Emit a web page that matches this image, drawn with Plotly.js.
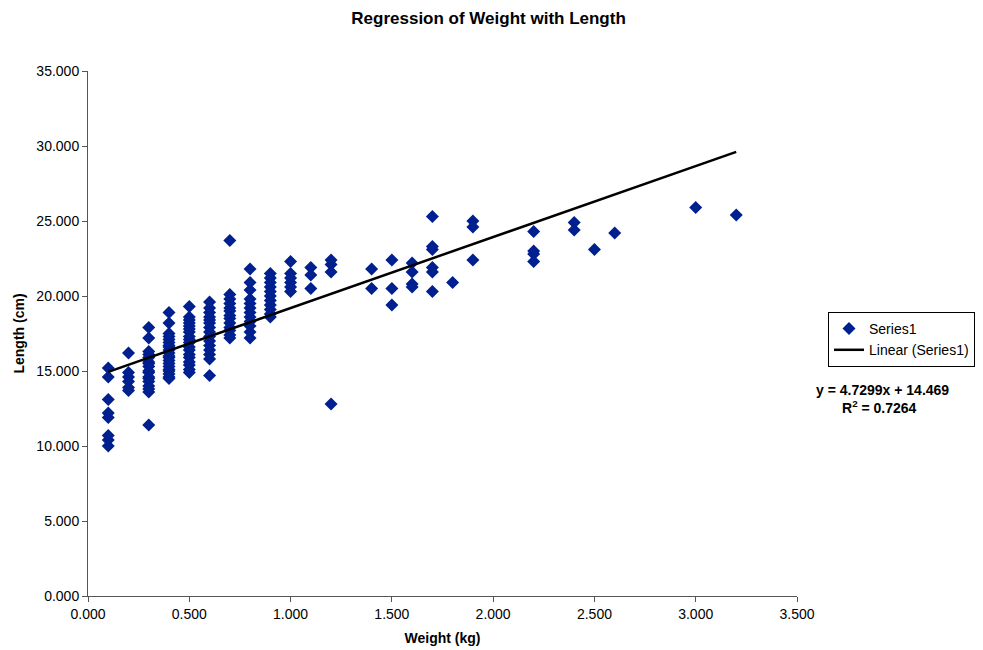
<!DOCTYPE html>
<html>
<head>
<meta charset="utf-8">
<script src="https://cdn.plot.ly/plotly-3.0.1.min.js"></script>
<style>html,body{margin:0;padding:0;background:#fff;}#chart{width:983px;height:650px;}</style>
</head>
<body>
<div id="chart"></div>
<script>
// Weight (kg) per fish, grouped by column
var weight = [
  0.1,0.1,0.1,0.1,0.1,0.1,0.1,0.1,
  0.2,0.2,0.2,0.2,0.2,0.2,
  0.3,0.3,0.3,0.3,0.3,0.3,0.3,0.3,0.3,0.3,0.3,0.3,0.3,0.3,0.3,0.3,0.3,
  0.4,0.4,0.4,0.4,0.4,0.4,0.4,0.4,0.4,0.4,0.4,0.4,0.4,0.4,0.4,0.4,0.4,0.4,0.4,0.4,
  0.5,0.5,0.5,0.5,0.5,0.5,0.5,0.5,0.5,0.5,0.5,0.5,0.5,0.5,0.5,0.5,0.5,0.5,
  0.6,0.6,0.6,0.6,0.6,0.6,0.6,0.6,0.6,0.6,0.6,0.6,0.6,0.6,0.6,
  0.7,0.7,0.7,0.7,0.7,0.7,0.7,0.7,0.7,0.7,0.7,0.7,0.7,
  0.8,0.8,0.8,0.8,0.8,0.8,0.8,0.8,0.8,0.8,0.8,0.8,
  0.9,0.9,0.9,0.9,0.9,0.9,0.9,0.9,0.9,0.9,0.9,
  1.0,1.0,1.0,1.0,1.0,1.0,
  1.1,1.1,1.1,
  1.2,1.2,1.2,1.2,
  1.4,1.4,
  1.5,1.5,1.5,
  1.6,1.6,1.6,1.6,
  1.7,1.7,1.7,1.7,1.7,1.7,
  1.8,
  1.9,1.9,1.9,
  2.2,2.2,2.2,2.2,
  2.4,2.4,
  2.5,
  2.6,
  3.0,
  3.2
];
// Length (cm) per fish, same order
var lengthCm = [
  15.2,14.6,13.1,12.2,11.9,10.7,10.4,10.0,
  16.2,14.9,14.6,14.3,13.9,13.7,
  17.9,17.2,16.3,16.1,15.9,15.6,15.5,15.3,15.0,14.9,14.6,14.5,14.3,14.0,13.8,13.6,11.4,
  18.9,18.2,17.5,17.3,17.1,16.9,16.7,16.6,16.4,16.2,16.0,15.9,15.7,15.5,15.3,15.1,15.0,14.8,14.6,14.5,
  19.3,18.6,18.4,18.2,18.0,17.8,17.6,17.3,17.1,16.9,16.6,16.4,16.1,15.9,15.6,15.4,15.1,14.9,
  19.6,19.2,18.9,18.6,18.4,18.2,17.9,17.6,17.3,17.0,16.7,16.4,16.1,15.8,14.7,
  23.7,20.1,19.8,19.5,19.2,19.0,18.7,18.5,18.2,17.9,17.7,17.4,17.2,
  21.8,20.9,20.4,19.8,19.5,19.2,18.9,18.6,18.3,18.0,17.6,17.2,
  21.5,21.2,20.9,20.6,20.3,20.0,19.7,19.4,19.1,18.8,18.6,
  22.3,21.5,21.2,20.9,20.6,20.3,
  21.9,21.4,20.5,
  22.4,22.1,21.6,12.8,
  21.8,20.5,
  22.4,20.5,19.4,
  22.2,21.6,20.8,20.6,
  25.3,23.3,23.1,21.9,21.6,20.3,
  20.9,
  25.0,24.6,22.4,
  24.3,23.0,22.8,22.3,
  24.9,24.4,
  23.1,
  24.2,
  25.9,
  25.4
];
// Linear trendline from the chart's equation
var slope = 4.7299;
var intercept = 14.469;
var rSquared = 0.7264;
var trendX = [0.1, 3.2];
var trendY = trendX.map(function(x){ return slope * x + intercept; });

var xTicks = [0, 0.5, 1, 1.5, 2, 2.5, 3, 3.5];
var yTicks = [0, 5, 10, 15, 20, 25, 30, 35];

var font = "Liberation Sans, Arial, sans-serif";

var traces = [
  {
    x: weight, y: lengthCm, type: 'scatter', mode: 'markers', name: 'Series1',
    marker: {symbol: 'diamond', size: 10, color: '#00208f', line: {width: 0}}
  },
  {
    x: trendX, y: trendY, type: 'scatter', mode: 'lines', name: 'Linear (Series1)',
    line: {color: '#000000', width: 2.5}
  }
];

var layout = {
  width: 983, height: 650,
  paper_bgcolor: '#ffffff', plot_bgcolor: '#ffffff',
  margin: {l: 88, r: 186, t: 71, b: 54},
  font: {family: font, size: 14, color: '#000'},
  title: {text: '<b>Regression of Weight with Length</b>', font: {family: font, size: 17, color: '#000'},
          x: 0.497, xanchor: 'center', y: 0.972, yanchor: 'middle', yref: 'container'},
  xaxis: {
    range: [0, 3.5], tickvals: xTicks, tickformat: '.3f',
    showgrid: false, zeroline: false, showline: true, linecolor: '#555', linewidth: 1,
    ticks: 'outside', ticklen: 5, tickcolor: '#555',
    tickfont: {family: font, size: 14},
    title: {text: '<b>Weight (kg)</b>', font: {family: font, size: 14}, standoff: 12}
  },
  yaxis: {
    range: [0, 35], tickvals: yTicks, tickformat: '.3f',
    showgrid: false, zeroline: false, showline: true, linecolor: '#555', linewidth: 1,
    ticks: 'outside', ticklen: 5, tickcolor: '#555',
    tickfont: {family: font, size: 14},
    title: {text: '<b>Length (cm)</b>', font: {family: font, size: 14}, standoff: 8}
  },
  legend: {
    xref: 'container', yref: 'container',
    x: 0.8423, y: 0.52, xanchor: 'left', yanchor: 'top',
    bgcolor: '#ffffff', bordercolor: '#000', borderwidth: 1,
    font: {family: font, size: 14}, tracegroupgap: 0, itemwidth: 30
  },
  showlegend: true,
  annotations: [
    {xref: 'paper', yref: 'paper', x: 1.121, y: 0.392, xanchor: 'center', yanchor: 'middle',
     text: '<b>y = ' + slope + 'x + ' + intercept + '</b>', showarrow: false, font: {family: font, size: 14}},
    {xref: 'paper', yref: 'paper', x: 1.116, y: 0.360, xanchor: 'center', yanchor: 'middle',
     text: '<b>R<sup>2</sup> = ' + rSquared + '</b>', showarrow: false, font: {family: font, size: 14}}
  ]
};

Plotly.newPlot('chart', traces, layout, {displayModeBar: false, staticPlot: true});
</script>
</body>
</html>
